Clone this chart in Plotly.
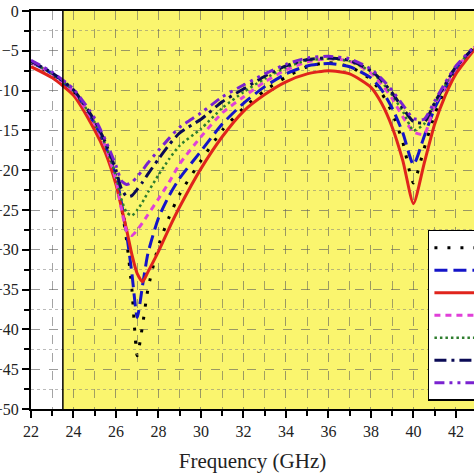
import plotly.graph_objects as go

freq = [22, 23, 24, 25, 25.5, 26, 26.25, 26.5, 26.75, 27, 27.25, 27.5, 28, 28.5, 29, 30, 31, 32,
        33, 34, 35, 36, 37, 38, 38.5, 39, 39.5, 40, 40.5, 41, 41.5, 42, 43]

s_black = [-6.5, -8.0, -10.2, -14.4, -17.2, -21.0, -24.5, -28.8, -35.0, -43.3, -39.5, -35.0, -29.5, -25.9, -23.0,
           -18.8, -15.0, -12.2, -10.0, -8.3, -7.0, -6.5, -7.0, -8.6, -10.3, -12.8, -16.5, -21.6, -17.3, -13.0,
           -9.9, -7.5, -4.3]
s_blue = [-6.4, -7.9, -10.1, -14.2, -16.9, -20.8, -24.0, -28.0, -33.0, -38.5, -34.5, -30.5, -26.0, -23.2, -21.0,
          -17.6, -14.2, -11.6, -9.5, -7.9, -6.9, -6.6, -7.0, -8.4, -9.9, -12.2, -15.3, -19.3, -15.8, -12.2,
          -9.6, -7.3, -4.3]
s_red = [-7.0, -8.4, -10.6, -15.0, -17.8, -21.8, -24.6, -27.5, -30.6, -33.0, -34.0, -32.8, -30.2, -27.3, -24.6,
         -19.8, -15.8, -12.6, -10.5, -8.9, -7.9, -7.5, -7.9, -9.6, -11.6, -14.6, -18.8, -24.2, -19.2, -14.2,
         -10.6, -7.9, -4.4]
s_magenta = [-6.4, -7.9, -10.1, -14.2, -17.0, -21.3, -24.8, -27.6, -28.2, -27.5, -26.6, -25.6, -23.6, -21.5, -19.2,
             -15.8, -12.8, -10.8, -8.9, -7.4, -6.4, -6.0, -6.3, -7.8, -9.2, -11.0, -13.3, -15.2, -15.5, -11.8,
             -9.5, -7.2, -4.2]
s_green = [-6.4, -7.9, -10.0, -14.0, -16.8, -20.8, -23.6, -25.3, -25.7, -25.0, -24.0, -22.8, -20.6, -18.6, -16.9,
           -14.8, -12.2, -10.2, -8.5, -7.1, -6.2, -6.0, -6.3, -7.6, -8.9, -10.6, -12.6, -15.0, -14.2, -11.6,
           -9.3, -7.1, -4.2]
s_navy = [-6.3, -7.8, -9.9, -13.8, -16.5, -20.0, -22.3, -23.3, -23.2, -22.4, -21.5, -20.5, -18.6, -16.8, -15.3,
          -13.6, -11.4, -9.8, -8.2, -6.9, -6.1, -5.9, -6.2, -7.5, -8.7, -10.3, -12.2, -13.9, -14.0, -11.5,
          -9.2, -7.0, -4.2]
s_purple = [-6.2, -7.7, -9.8, -13.5, -16.2, -19.4, -21.3, -21.8, -21.5, -20.8, -20.0, -19.1, -17.5, -16.0, -14.6,
            -12.8, -10.8, -9.3, -7.9, -6.7, -5.9, -5.7, -6.0, -7.3, -8.5, -10.0, -11.8, -13.5, -13.6, -11.3,
            -9.0, -6.9, -4.1]

names = ["Case 1", "Case 2", "Case 3", "Case 4", "Case 5", "Case 6", "Case 7"]
series = [s_black, s_blue, s_red, s_magenta, s_green, s_navy, s_purple]
colors = ["#000000", "#1414C8", "#E0241C", "#E040D8", "#2E7D2E", "#0A0A55", "#7A22D0"]
dashes = ["3px,10px", "13px,6px", "solid", "6px,5px", "2.5px,3px", "12px,5px,3px,5px", "10px,5px,3px,5px,3px,5px"]
widths = [3, 3, 3, 3, 2.5, 3, 3]

fig = go.Figure()
for n, s, c, d, w in zip(names, series, colors, dashes, widths):
    fig.add_trace(go.Scatter(x=freq, y=s, mode="lines", name=n,
                             line=dict(color=c, dash=d, width=w, shape="spline", smoothing=0.6)))

fig.add_shape(type="rect", xref="x", yref="y", x0=23.5, x1=44, y0=-50, y1=0,
              fillcolor="#FAF56E", line_width=0, layer="below")
fig.add_shape(type="line", xref="x", yref="y", x0=23.5, x1=23.5, y0=-50, y1=0,
              line=dict(color="black", width=1.5), layer="above")

tickfont = dict(family="Liberation Serif", size=16, color="#222")
fig.update_layout(
    width=474, height=474,
    margin=dict(l=31, r=0, t=11, b=65, autoexpand=False),
    paper_bgcolor="white", plot_bgcolor="white",
    showlegend=True,
    legend=dict(x=0.896, y=0.45, xanchor="left", yanchor="top",
                bgcolor="white", bordercolor="black", borderwidth=1.5,
                font=dict(family="Liberation Serif", size=15), tracegroupgap=0, itemwidth=40),
    xaxis=dict(range=[22, 42.85], dtick=2, tick0=22, showgrid=True,
               gridcolor="rgba(90,90,90,0.6)", griddash="dash", gridwidth=1,
               minor=dict(dtick=1, ticks="outside", ticklen=5, tickwidth=2, tickcolor="black",
                          showgrid=True, gridcolor="rgba(90,90,90,0.55)", griddash="dash"),
               ticks="outside", ticklen=7, tickwidth=2, tickcolor="black",
               showline=True, linecolor="black", linewidth=2, mirror=True,
               zeroline=False, tickfont=tickfont,
               title=dict(text="Frequency (GHz)", font=dict(family="Liberation Serif", size=21, color="#222"),
                          standoff=14)),
    yaxis=dict(range=[-50, 0], dtick=5, showgrid=True,
               gridcolor="rgba(90,90,90,0.6)", griddash="dash", gridwidth=1,
               minor=dict(dtick=2.5, ticks="outside", ticklen=5, tickwidth=2, tickcolor="black",
                          showgrid=True, gridcolor="rgba(120,120,120,0.5)", griddash="dot"),
               ticks="outside", ticklen=7, tickwidth=2, tickcolor="black",
               showline=True, linecolor="black", linewidth=2, mirror=False,
               zeroline=False, tickfont=tickfont),
)

fig.write_html("out.html")
